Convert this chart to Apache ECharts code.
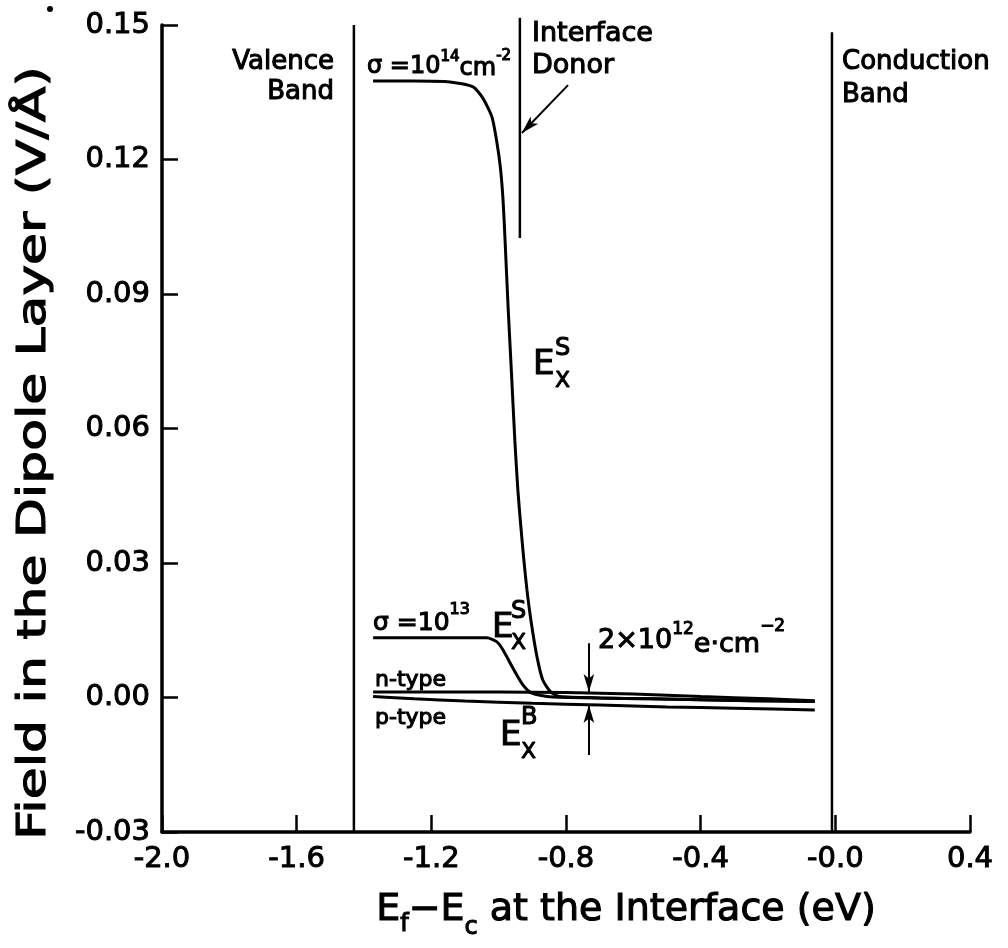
<!DOCTYPE html>
<html>
<head>
<meta charset="utf-8">
<script src="https://cdn.jsdelivr.net/npm/echarts@6/dist/echarts.min.js"></script>
<style>
html,body{margin:0;padding:0;background:#fff;}
#chart{width:1008px;height:948px;}
</style>
</head>
<body>
<div id="chart"></div>
<script>
// ---- data ----
const xTickLabels = ['-2.0','-1.6','-1.2','-0.8','-0.4','-0.0','0.4'];
const yTickLabels = ['-0.03','0.00','0.03','0.06','0.09','0.12','0.15'];
const valenceBandX = -1.43;
const conductionBandX = -0.01;
const donorLevelX = -0.937;
const donorSpan = [0.1025, 0.1516];
const sigma14 = [[-1.373,0.1375],[-1.25,0.1375],[-1.145,0.1373],[-1.076,0.1362],[-1.047,0.1337],[-1.020,0.1295],[-1.005,0.1237],[-0.995,0.1183],[-0.987,0.1110],[-0.981,0.1020],[-0.972,0.0871],[-0.962,0.0724],[-0.952,0.0574],[-0.943,0.0463],[-0.935,0.0389],[-0.926,0.0313],[-0.916,0.0240],[-0.903,0.0166],[-0.886,0.0090],[-0.869,0.0039],[-0.845,0.0012],[-0.818,0.0002],[-0.70,-0.0001],[-0.55,-0.0003],[-0.40,-0.0005],[-0.25,-0.0007],[-0.061,-0.0009]];
const sigma13 = [[-1.373,0.0133],[-1.20,0.0133],[-1.035,0.0133],[-1.005,0.0124],[-0.987,0.0106],[-0.966,0.0077],[-0.946,0.0050],[-0.928,0.0028],[-0.907,0.0012],[-0.877,0.0005],[-0.839,0.0001],[-0.70,-0.0001],[-0.55,-0.0003],[-0.40,-0.0005],[-0.25,-0.0007],[-0.061,-0.0009]];
const nType = [[-1.373,0.0012],[-1.0,0.0012],[-0.8,0.0011],[-0.6,0.0008],[-0.4,0.0002],[-0.2,-0.0003],[-0.061,-0.0007]];
const pType = [[-1.373,0.0002],[-1.25,-0.0003],[-1.1,-0.0008],[-0.9,-0.0013],[-0.7,-0.0017],[-0.5,-0.0021],[-0.3,-0.0024],[-0.061,-0.0028]];
const donorArrow = [[-0.794,0.1366],[-0.931,0.1259]];
const thickArrowX = -0.732;
const thickArrowTop = [0.0121, 0.0012];
const thickArrowBottom = [-0.0128, -0.0017];

const FONT = '"DejaVu Sans", sans-serif';
const ctx = document.createElement('canvas').getContext('2d');
function tw(t, s){ ctx.font = s + 'px ' + FONT; return ctx.measureText(t).width; }
function txt(x, y, t, s, align, extra){
  return Object.assign({type:'text', x:x, y:y, silent:true, style:{text:t, font: s+'px '+FONT, fill:'#000', align:align||'left', verticalAlign:'middle', stroke:'#000', lineWidth:1.1}}, extra||{});
}
function seq(x0, pieces, align, sx){
  sx = sx || 1;
  const ws = pieces.map(p => tw(p.t, p.s) * sx);
  const total = ws.reduce((a,b)=>a+b,0);
  let cur = align === 'center' ? x0 - total/2 : (align === 'right' ? x0 - total : x0);
  const out = [];
  pieces.forEach((p,i) => { out.push(txt(cur, p.y, p.t, p.s, 'left', sx !== 1 ? {scaleX:sx} : null)); cur += ws[i]; });
  return out;
}

const graphics = [].concat(
  [txt(334,62,'Valence',26,'right'), txt(334,92,'Band',26,'right')],
  [txt(532,34,'Interface',27,'left'), txt(532,66,'Donor',27,'left')],
  [txt(842,62,'Conduction',26,'left'), txt(842,95,'Band',26,'left')],
  seq(367,[{t:'σ =10',s:24,y:67},{t:'14',s:15,y:57},{t:'cm',s:24,y:69},{t:'-2',s:15,y:56}],'left'),
  seq(373,[{t:'σ =10',s:25,y:623},{t:'13',s:16,y:610}],'left'),
  [txt(533,365,'E',34,'left'), txt(555,349,'S',24,'left'), txt(555,381,'X',22,'left')],
  [txt(492,628,'E',34,'left'), txt(511,612,'S',24,'left'), txt(511,643,'X',22,'left')],
  [txt(500,736,'E',34,'left'), txt(521,718,'B',24,'left'), txt(521,752,'X',22,'left')],
  [txt(375,680,'n-type',22,'left'), txt(375,718,'p-type',22,'left')],
  seq(598,[{t:'2×10',s:27,y:641},{t:'12',s:17,y:630},{t:'e·cm',s:27,y:645},{t:'−2',s:17,y:627}],'left'),
  seq(626,[{t:'E',s:38,y:910},{t:'f',s:24,y:925},{t:'−E',s:38,y:910},{t:'c',s:24,y:928},{t:' at the Interface (eV)',s:38,y:910}],'center'),
  [txt(35,453,'Field in the Dipole Layer (V/Å)',39,'center',{rotation:Math.PI/2, scaleX:1.33})],
  [{type:'circle', shape:{cx:50, cy:9, r:3}, style:{fill:'#000'}, silent:true}]
);

function curve(data, w){ return {type:'line', data:data, symbol:'none', smooth:0.2, lineStyle:{color:'#000', width:w||3}, clip:false, silent:true}; }

const option = {
  animation:false,
  backgroundColor:'#fff',
  grid:{left:162, right:38, top:25, bottom:116},
  xAxis:{type:'value', min:-2.0, max:0.4, interval:0.4,
    axisLine:{show:true, onZero:false, lineStyle:{color:'#000', width:3.5}},
    axisTick:{show:true, inside:true, length:17, lineStyle:{color:'#000', width:2.5}},
    axisLabel:{margin:13, color:'#000', fontSize:29, fontFamily:FONT, textBorderColor:'#000', textBorderWidth:1,
      formatter:(v)=>xTickLabels[Math.round((v+2.0)/0.4)]},
    splitLine:{show:false}},
  yAxis:{type:'value', min:-0.03, max:0.15, interval:0.03,
    axisLine:{show:true, onZero:false, lineStyle:{color:'#000', width:3.5}},
    axisTick:{show:true, inside:true, length:16, lineStyle:{color:'#000', width:2.5}},
    axisLabel:{margin:12, color:'#000', fontSize:29, fontFamily:FONT, textBorderColor:'#000', textBorderWidth:1,
      formatter:(v)=>yTickLabels[Math.round((v+0.03)/0.03)]},
    splitLine:{show:false}},
  graphic: graphics,
  series:[
    {type:'line', data:[[valenceBandX,-0.03],[valenceBandX,0.15]], symbol:'none', lineStyle:{color:'#000', width:2.5}, silent:true},
    {type:'line', data:[[conductionBandX,-0.03],[conductionBandX,0.1484]], symbol:'none', lineStyle:{color:'#000', width:2.5}, silent:true},
    {type:'line', data:[[donorLevelX,donorSpan[0]],[donorLevelX,donorSpan[1]]], symbol:'none', lineStyle:{color:'#000', width:2.5}, clip:false, silent:true},
    curve(sigma14, 3),
    curve(sigma13, 3),
    curve(nType, 3),
    curve(pType, 3),
    {type:'line', data:[], silent:true,
      markLine:{silent:true, symbol:['none','arrow'], symbolSize:[8,18], label:{show:false},
        lineStyle:{color:'#000', width:2, type:'solid'},
        data:[
          [{coord:donorArrow[0]},{coord:donorArrow[1]}],
          [{coord:[thickArrowX,thickArrowTop[0]]},{coord:[thickArrowX,thickArrowTop[1]]}],
          [{coord:[thickArrowX,thickArrowBottom[0]]},{coord:[thickArrowX,thickArrowBottom[1]]}]
        ]}}
  ]
};
const chart = echarts.init(document.getElementById('chart'), null, {renderer:'canvas'});
chart.setOption(option);
</script>
</body>
</html>
